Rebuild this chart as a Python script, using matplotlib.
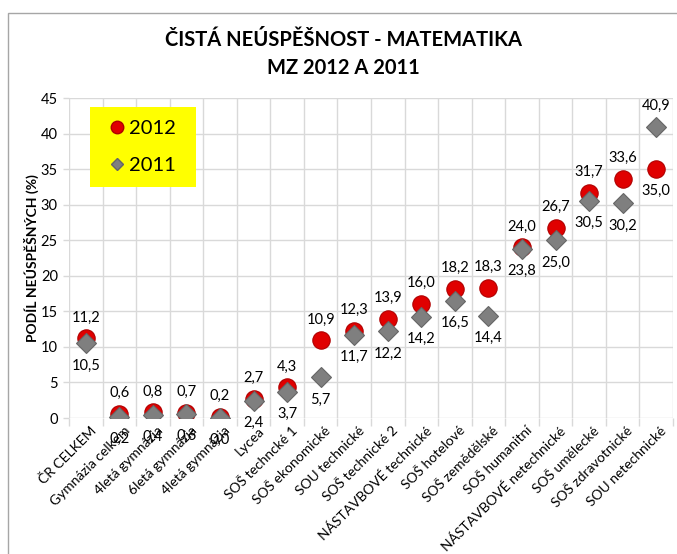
import matplotlib
matplotlib.use("Agg")
import matplotlib.pyplot as plt
from matplotlib.lines import Line2D
from matplotlib.patches import Rectangle

categories = [
    "ČR CELKEM", "Gymnázia celkem", "4letá gymnázia", "6letá gymnázia",
    "4letá gymnázia", "Lycea", "SOŠ techncké 1", "SOŠ ekonomické",
    "SOU technické", "SOŠ technické 2", "NÁSTAVBOVÉ technické", "SOŠ hotelové",
    "SOŠ zemědělské", "SOŠ humanitní", "NÁSTAVBOVÉ netechnické", "SOŠ umělecké",
    "SOŠ zdravotnické", "SOU netechnické",
]
values_2012 = [11.2, 0.6, 0.8, 0.7, 0.2, 2.7, 4.3, 10.9, 12.3, 13.9, 16.0, 18.2,
               18.3, 24.0, 26.7, 31.7, 33.6, 35.0]
values_2011 = [10.5, 0.2, 0.4, 0.6, 0.0, 2.4, 3.7, 5.7, 11.7, 12.2, 14.2, 16.5,
               14.4, 23.8, 25.0, 30.5, 30.2, 40.9]
y_ticks = [0, 5, 10, 15, 20, 25, 30, 35, 40, 45]

FONT = ["Lato", "DejaVu Sans"]
RED = "#e00000"
RED_EDGE = "#b00000"
GREY = "#7f7f7f"
GREY_EDGE = "#666666"
GRID = "#d9d9d9"

plt.rcParams["font.family"] = FONT

fig = plt.figure(figsize=(6.77, 5.54), dpi=100)
# chart frame
fig.patches.append(Rectangle((8 / 677, -0.1), 1.0, 1 - 13 / 554 + 0.1,
                             transform=fig.transFigure, fill=False,
                             edgecolor="#a6a6a6", linewidth=1.0))

ax = fig.add_axes([69 / 677, 1 - 418 / 554, 604 / 677, 320 / 554])
n = len(categories)
x = list(range(n))

ax.set_xlim(-0.5, n - 0.5)
ax.set_ylim(0, 45)
ax.set_yticks(y_ticks)
ax.set_yticklabels([str(t) for t in y_ticks], fontsize=10.5)
ax.set_xticks([i - 0.5 for i in range(n + 1)])
ax.set_xticklabels([])
ax.tick_params(axis="x", length=6, color=GRID, width=1)
ax.tick_params(axis="y", length=4, color=GRID, width=1, pad=4)
ax.grid(True, color=GRID, linewidth=1)
ax.set_axisbelow(True)
for s in ax.spines.values():
    s.set_visible(False)

# category labels
for i, name in enumerate(categories):
    ax.text(i + 0.12, -0.9, name, rotation=45, ha="right", va="top",
            rotation_mode="anchor", fontsize=10)

ax.plot(x, values_2012, linestyle="none", marker="o", markersize=12.5,
        markerfacecolor=RED, markeredgecolor=RED_EDGE, markeredgewidth=0.8, zorder=3)
ax.plot(x, values_2011, linestyle="none", marker="D", markersize=10,
        markerfacecolor=GREY, markeredgecolor=GREY_EDGE, markeredgewidth=0.8, zorder=4)

for i, (a, b) in enumerate(zip(values_2012, values_2011)):
    hi, lo = (a, b) if a >= b else (b, a)
    ax.annotate(f"{hi:.1f}".replace(".", ","), (i, hi), xytext=(0, 15),
                textcoords="offset points", ha="center", va="center", fontsize=10.5)
    ax.annotate(f"{lo:.1f}".replace(".", ","), (i, lo), xytext=(0, -16),
                textcoords="offset points", ha="center", va="center", fontsize=10.5)

ax.set_ylabel("PODÍL NEÚSPĚŠNÝCH (%)", fontsize=10, fontweight="bold", labelpad=1)

fig.text(0.507, 1 - 40 / 554, "ČISTÁ NEÚSPĚŠNOST - MATEMATIKA", ha="center",
         va="center", fontsize=14.5, fontweight="bold")
fig.text(0.507, 1 - 68 / 554, "MZ 2012 A 2011", ha="center", va="center",
         fontsize=14.5, fontweight="bold")

# legend box
fig.patches.append(Rectangle((90 / 677, 1 - 187 / 554), 106 / 677, 80 / 554,
                             transform=fig.transFigure, facecolor="#ffff00",
                             edgecolor="none", zorder=5))
handles = [
    Line2D([], [], linestyle="none", marker="o", markersize=9,
           markerfacecolor=RED, markeredgecolor=RED_EDGE, label="2012"),
    Line2D([], [], linestyle="none", marker="D", markersize=6.5,
           markerfacecolor=GREY, markeredgecolor=GREY_EDGE, label="2011"),
]
leg = fig.legend(handles=handles, loc="center", bbox_to_anchor=(143 / 677, 1 - 147 / 554),
                 frameon=False, fontsize=14.5, handlelength=0.6, handletextpad=0.3,
                 labelspacing=1.0, borderpad=0)
leg.set_zorder(6)

fig.savefig("out.png", dpi=100)
